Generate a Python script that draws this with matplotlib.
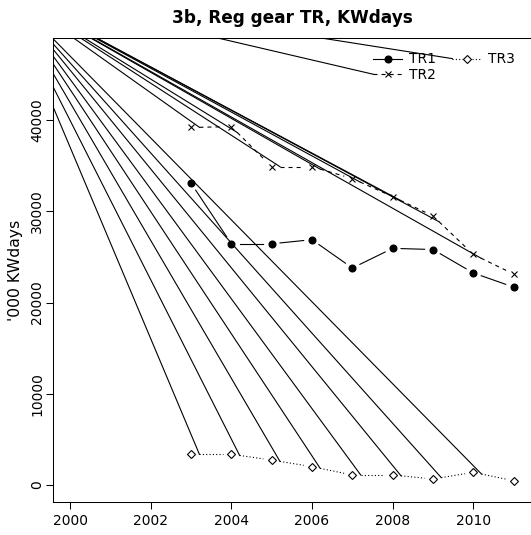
import numpy as np
import matplotlib.pyplot as plt
from matplotlib.lines import Line2D

plt.rcParams['font.family'] = ['DejaVu Sans']
plt.rcParams['lines.scale_dashes'] = False

years = np.arange(2003, 2012)
tr1 = [33100, 26450, 26450, 26900, 23790, 25950, 25820, 23250, 21700]
tr2 = [39200, 39300, 34900, 34900, 33600, 31620, 29500, 25280, 23130]
tr3 = [3370, 3370, 2740, 2010, 1100, 1100, 660, 1390, 470]
names = ['TR1', 'TR2', 'TR3']
x_ticks = [2000, 2002, 2004, 2006, 2008, 2010]
y_ticks = [0, 10000, 20000, 30000, 40000]

# the original device drew stray lines from this point to every dashed/dotted segment
stray_x, stray_y = 1998.34, 54500

lw = 0.8
gap = 8.4  # px, type="b" gap around the points
styles = [
    dict(marker='o', ms=4.8, mfc='k', mec='k', ls='-'),
    dict(marker='x', ms=5.0, mec='k', mew=0.8, ls=(0, (2.9, 2.9))),
    dict(marker='D', ms=4.4, mfc='white', mec='k', mew=0.8, ls=(0, (0.8, 1.6))),
]

fig = plt.figure(figsize=(5.31, 5.35), dpi=100)
ax = fig.add_axes([52.5 / 531, 32.8 / 535, 478.9 / 531, 463.9 / 535])
ax.set_xlim(1999.566, 2011.44)
ax.set_ylim(-1884, 48980)
ax.set_autoscale_on(False)


def gapped(xs, ys):
    pts = ax.transData.transform(np.column_stack([xs, ys]))
    segs = []
    for p, q in zip(pts[:-1], pts[1:]):
        d = q - p
        u = d / np.hypot(*d)
        segs.append(ax.transData.inverted().transform([p + u * gap, q - u * gap]))
    return segs


for vals, st in zip([tr1, tr2, tr3], styles):
    ax.plot(years, vals, ls='none', marker=st['marker'], ms=st['ms'],
            mfc=st.get('mfc', 'none'), mec=st['mec'], mew=st.get('mew', 1))
    for seg in gapped(years, vals):
        ax.plot(seg[:, 0], seg[:, 1], color='k', lw=lw, ls=st['ls'])
        if st['ls'] != '-':
            ax.plot([stray_x, seg[0, 0]], [stray_y, seg[0, 1]], color='k', lw=lw)

handles = [Line2D([], [], color='k', lw=lw, ls=st['ls'], marker=st['marker'], ms=st['ms'],
                  mfc=st.get('mfc', 'none'), mec=st['mec'], mew=st.get('mew', 1))
           for st in styles]
leg = ax.legend(handles, names, ncol=2, frameon=False, loc='upper right',
                bbox_to_anchor=(0.9662, 0.9694), fontsize=10, handlelength=2.09,
                handletextpad=0.5, columnspacing=1.15, labelspacing=0.12,
                borderaxespad=0, borderpad=0)

ax.set_title('3b, Reg gear TR, KWdays', fontsize=12.2, fontweight='bold', pad=11)
ax.set_ylabel("'000 KWdays", fontsize=11.3, labelpad=5)
ax.set_xticks(x_ticks)
ax.set_yticks(y_ticks)
ax.tick_params(direction='out', length=5.2, width=0.75, labelsize=10)
ax.tick_params(axis='y', pad=0.8, labelrotation=90)
ax.tick_params(axis='x', pad=3.6)
for lab in ax.get_yticklabels():
    lab.set_va('center')
for s in ax.spines.values():
    s.set_linewidth(0.75)
ax.spines['right'].set_visible(False)

# stray lines to the dashed and dotted legend keys as well
fig.canvas.draw()
for line in leg.get_lines()[1:]:
    start = line.get_transform().transform(line.get_xydata())[0]
    sx, sy = ax.transData.inverted().transform(start)
    ax.plot([stray_x, sx], [stray_y, sy], color='k', lw=lw)

fig.savefig('out.png', dpi=100)
